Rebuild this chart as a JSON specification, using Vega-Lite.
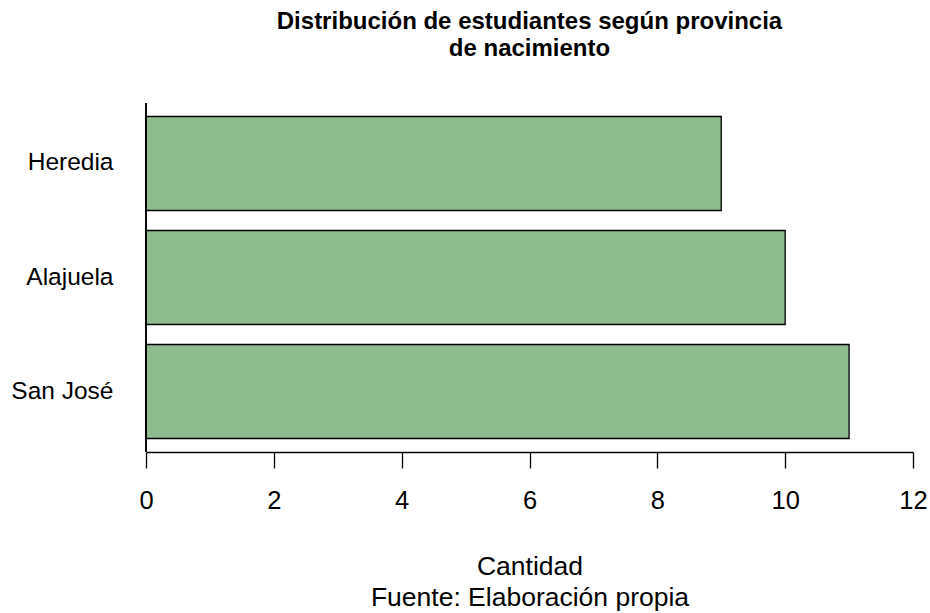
{
  "$schema": "https://vega.github.io/schema/vega-lite/v6.json",
  "width": 767,
  "height": 349,
  "autosize": {"type": "none"},
  "padding": {"left": 146, "top": 103, "right": 17, "bottom": 161},
  "background": "white",
  "config": {
    "view": {"stroke": null},
    "font": "Liberation Sans"
  },
  "title": {
    "text": ["Distribución de estudiantes según provincia", "de nacimiento"],
    "fontSize": 24,
    "fontWeight": "bold",
    "font": "Liberation Sans",
    "color": "black",
    "anchor": "middle",
    "frame": "group",
    "lineHeight": 27,
    "offset": 41
  },
  "data": {
    "values": [
      {"provincia": "Heredia", "cantidad": 9},
      {"provincia": "Alajuela", "cantidad": 10},
      {"provincia": "San José", "cantidad": 11}
    ]
  },
  "layer": [
    {
      "mark": {"type": "bar", "fill": "#8FBC8F", "stroke": "black", "strokeWidth": 1.3},
      "encoding": {
        "y": {
          "field": "provincia",
          "type": "nominal",
          "sort": ["Heredia", "Alajuela", "San José"],
          "scale": {"paddingInner": 0.17544, "paddingOuter": 0.1184},
          "axis": {
            "title": null,
            "domain": false,
            "ticks": false,
            "labelPadding": 33,
            "labelFontSize": 24.5,
            "labelColor": "black",
            "labelFont": "Liberation Sans"
          }
        },
        "x": {
          "field": "cantidad",
          "type": "quantitative",
          "scale": {"domain": [0, 12], "nice": false, "zero": true},
          "axis": {
            "values": [0, 2, 4, 6, 8, 10, 12],
            "format": "d",
            "grid": false,
            "domainColor": "black",
            "domainWidth": 1.3,
            "tickColor": "black",
            "tickWidth": 1.3,
            "tickSize": 16,
            "labelPadding": 20,
            "labelFontSize": 25.5,
            "labelColor": "black",
            "labelFont": "Liberation Sans",
            "labelFlush": false,
            "title": ["Cantidad", "Fuente: Elaboración propia"],
            "titleFontSize": 26.5,
            "titleFontWeight": "normal",
            "titleColor": "black",
            "titleFont": "Liberation Sans",
            "titleLineHeight": 31,
            "titlePadding": 40
          }
        }
      }
    },
    {
      "mark": {"type": "rule", "color": "black", "strokeWidth": 1.3},
      "encoding": {"x": {"datum": 0}}
    }
  ]
}
